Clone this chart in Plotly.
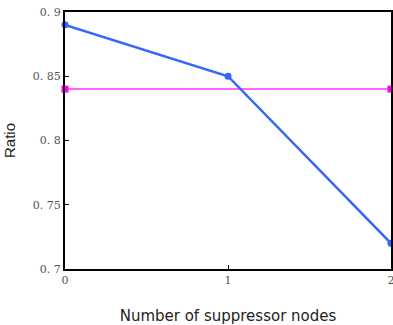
import plotly.graph_objects as go

x_nodes = [0, 1, 2]
ratio_values = [0.89, 0.85, 0.72]
baseline_x = [0, 2]
baseline_values = [0.84, 0.84]
y_tickvals = [0.7, 0.75, 0.8, 0.85, 0.9]
y_ticktext = ["0. 7", "0. 75", "0. 8", "0. 85", "0. 9"]
x_tickvals = [0, 1, 2]
x_ticktext = ["0", "1", "2"]

fig = go.Figure()
fig.add_trace(go.Scatter(
    x=baseline_x, y=baseline_values, mode="lines+markers",
    line=dict(color="#ff33ff", width=1.5),
    marker=dict(symbol="square", size=7, color="#ff00ff"),
    cliponaxis=False, showlegend=False))
fig.add_trace(go.Scatter(
    x=x_nodes, y=ratio_values, mode="lines+markers",
    line=dict(color="#3366ff", width=2.5),
    marker=dict(symbol="circle", size=7, color="#3366ff"),
    cliponaxis=False, showlegend=False))

fig.update_layout(
    width=393, height=325,
    margin=dict(l=65, r=2, t=12, b=56, autoexpand=False),
    paper_bgcolor="white", plot_bgcolor="white",
    font=dict(family="Liberation Sans, Arial", color="#222"),
)
fig.update_xaxes(
    range=[0, 2], tickvals=x_tickvals, ticktext=x_ticktext,
    showgrid=False, zeroline=False, showline=True, linecolor="black", linewidth=2,
    mirror=True, ticks="inside", ticklen=4, tickcolor="black",
    ticklabeloverflow="allow",
    tickfont=dict(family="DejaVu Serif, Liberation Serif", size=11, color="#555"),
    title=dict(text="Number of suppressor nodes",
               font=dict(family="DejaVu Sans", size=15, color="#222"), standoff=24),
    automargin=False,
)
fig.update_yaxes(
    range=[0.7, 0.9], tickvals=y_tickvals, ticktext=y_ticktext,
    showgrid=False, zeroline=False, showline=True, linecolor="black", linewidth=2,
    mirror=True, ticks="inside", ticklen=4, tickcolor="black",
    tickfont=dict(family="DejaVu Serif, Liberation Serif", size=11, color="#555"),
    title=dict(text="Ratio", font=dict(size=15, color="#222"), standoff=14),
    automargin=False,
)

fig.write_html("out.html")
